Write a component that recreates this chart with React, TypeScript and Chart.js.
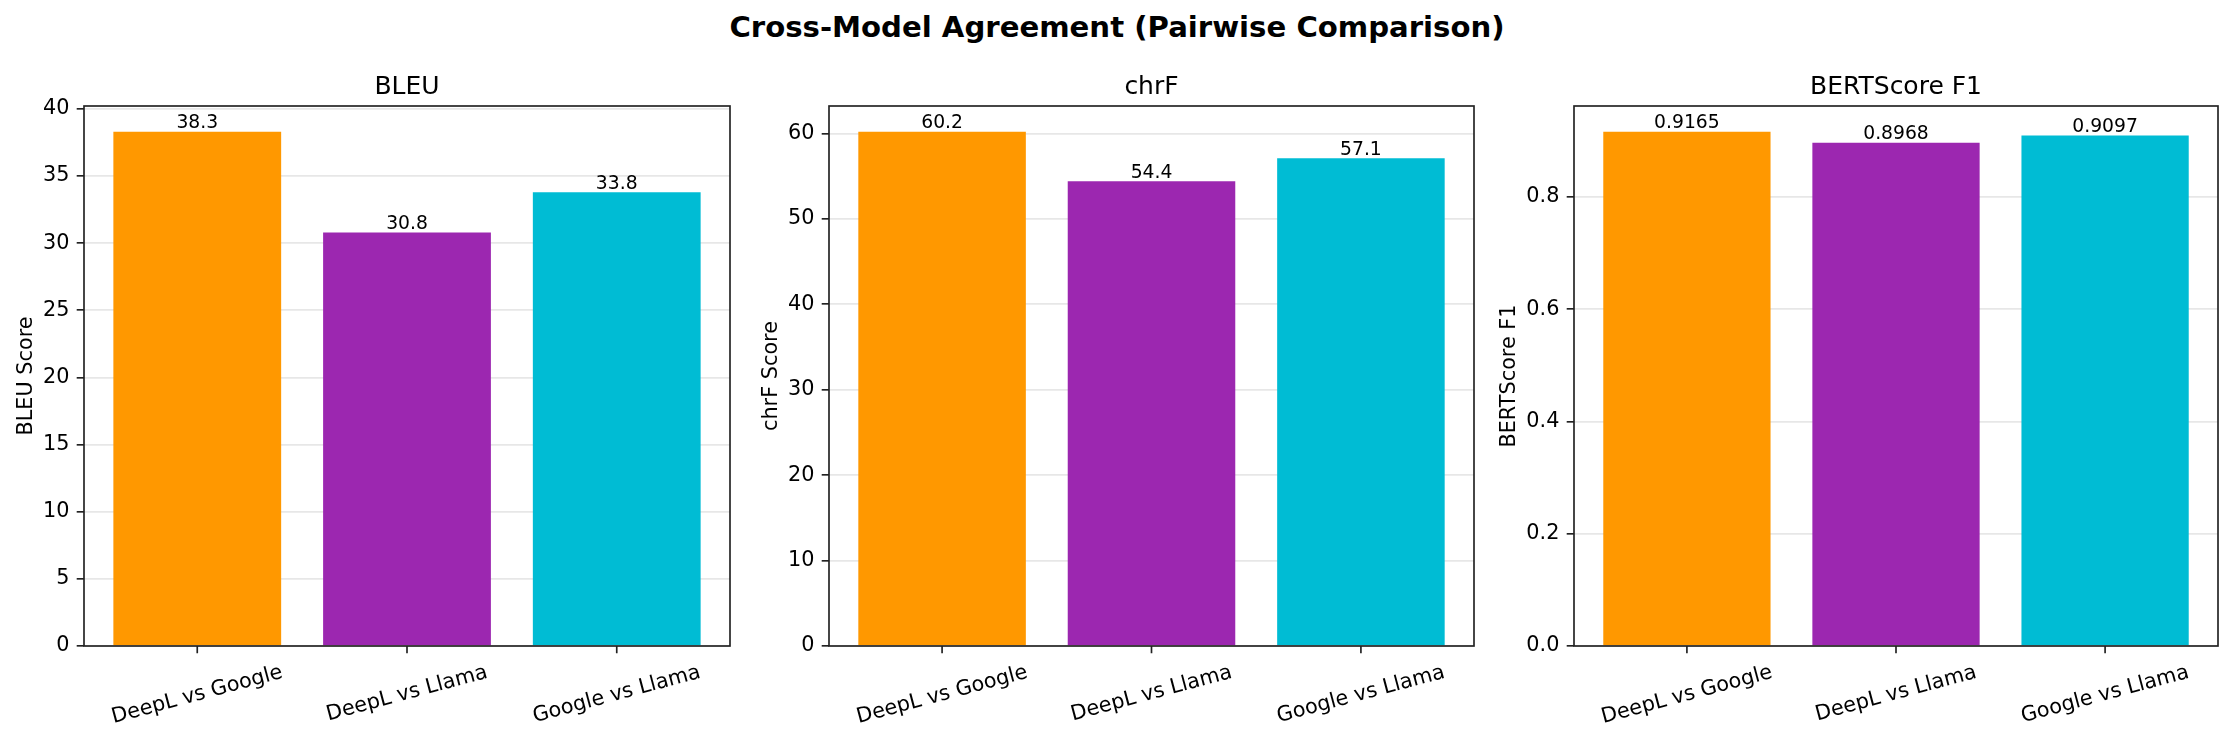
import React, { useEffect, useRef } from "react";
import { Chart, registerables } from "chart.js";

Chart.register(...registerables);

// ---------- data ----------
const categories = ["DeepL vs Google", "DeepL vs Llama", "Google vs Llama"];
const barColors = ["#FF9800", "#9C27B0", "#00BCD4"];
const bleuValues = [38.3, 30.8, 33.8];
const chrfValues = [60.2, 54.4, 57.1];
const bertValues = [0.9165, 0.8968, 0.9097];
const bleuTicks = [0, 5, 10, 15, 20, 25, 30, 35, 40];
const chrfTicks = [0, 10, 20, 30, 40, 50, 60];
const bertTicks = [0, 0.2, 0.4, 0.6, 0.8];
const panelTitles = ["BLEU", "chrF", "BERTScore F1"];
const yAxisLabels = ["BLEU Score", "chrF Score", "BERTScore F1"];
const suptitle = "Cross-Model Agreement (Pairwise Comparison)";

// ---------- layout / style ----------
const FONT = "'DejaVu Sans', 'Liberation Sans', sans-serif";
const PAGE_W = 2234;
const PAGE_H = 741;
const PLOT_TOP = 106;
const PLOT_BOTTOM = 646;
const TICK_LEN = 7.3;
const LINE_W = 1.67;
const DARK = "#222222";

type PanelLayout = { canvasLeft: number; canvasWidth: number; plotLeft: number; plotRight: number };
const layouts: PanelLayout[] = [
  { canvasLeft: 0, canvasWidth: 755, plotLeft: 84, plotRight: 730 },
  { canvasLeft: 755, canvasWidth: 735, plotLeft: 829, plotRight: 1474 },
  { canvasLeft: 1490, canvasWidth: 744, plotLeft: 1574, plotRight: 2218 },
];

type PanelProps = {
  values: number[];
  ticks: number[];
  valueDecimals: number;
  tickDecimals: number;
  title: string;
  yLabel: string;
  layout: PanelLayout;
};

function Panel({ values, ticks, valueDecimals, tickDecimals, title, yLabel, layout }: PanelProps) {
  const ref = useRef<HTMLCanvasElement | null>(null);

  useEffect(() => {
    if (!ref.current) return;
    const n = categories.length;
    const xMin = -0.4 - 0.05 * (n - 1 + 0.8);
    const xMax = n - 1 + 0.4 + 0.05 * (n - 1 + 0.8);
    const yMax = Math.max(...values) * 1.05;
    const tickFont = `20.8px ${FONT}`;

    const decor = {
      id: "decor" + title.replace(/\s/g, ""),
      afterDraw(chart: any) {
        const ctx: CanvasRenderingContext2D = chart.ctx;
        const area = chart.chartArea;
        ctx.save();
        // frame
        ctx.strokeStyle = DARK;
        ctx.lineWidth = LINE_W;
        ctx.strokeRect(area.left, area.top, area.right - area.left, area.bottom - area.top);

        // x tick marks
        const xs = chart.scales.x;
        ctx.beginPath();
        categories.forEach((_, i) => {
          const px = xs.getPixelForValue(i);
          ctx.moveTo(px, area.bottom);
          ctx.lineTo(px, area.bottom + TICK_LEN);
        });
        ctx.stroke();

        // value labels
        const meta = chart.getDatasetMeta(0);
        ctx.fillStyle = "#000";
        ctx.font = `18.75px ${FONT}`;
        ctx.textAlign = "center";
        ctx.textBaseline = "alphabetic";
        meta.data.forEach((el: any, i: number) => {
          ctx.fillText(values[i].toFixed(valueDecimals), el.x, el.y - 3.5);
        });

        // subplot title
        ctx.font = `25px ${FONT}`;
        ctx.fillText(title, (area.left + area.right) / 2, area.top - 12.5);

        // x tick labels rotated 15deg, centered on tick
        ctx.font = tickFont;
        const ang = (15 * Math.PI) / 180;
        const lineH = 20.8 * 1.164;
        categories.forEach((c, i) => {
          const w = ctx.measureText(c).width;
          const bboxH = w * Math.sin(ang) + lineH * Math.cos(ang);
          const cx = xs.getPixelForValue(i);
          const cy = area.bottom + TICK_LEN + 7.3 + bboxH / 2;
          ctx.save();
          ctx.translate(cx, cy);
          ctx.rotate(-ang);
          ctx.textAlign = "center";
          ctx.textBaseline = "middle";
          ctx.fillText(c, 0, 0);
          ctx.restore();
        });

        // y axis label
        let maxTickW = 0;
        ticks.forEach((t) => {
          maxTickW = Math.max(maxTickW, ctx.measureText(t.toFixed(tickDecimals)).width);
        });
        const baseX = area.left - maxTickW - 25.5;
        ctx.save();
        ctx.translate(baseX, (area.top + area.bottom) / 2);
        ctx.rotate(-Math.PI / 2);
        ctx.textAlign = "center";
        ctx.textBaseline = "alphabetic";
        ctx.fillText(yLabel, 0, 0);
        ctx.restore();

        ctx.restore();
      },
    };

    const chart = new Chart(ref.current, {
      type: "bar",
      data: {
        datasets: [
          {
            data: values.map((v, i) => ({ x: i, y: v })),
            backgroundColor: barColors,
            borderWidth: 0,
            barPercentage: 0.8,
            categoryPercentage: 1.0,
          },
        ],
      },
      options: {
        responsive: false,
        animation: false,
        devicePixelRatio: 1,
        layout: {
          padding: {
            top: PLOT_TOP,
            left: 0,
            bottom: 0,
            right: layout.canvasLeft + layout.canvasWidth - layout.plotRight,
          },
        },
        plugins: {
          legend: { display: false },
          title: { display: false },
          tooltip: { enabled: false },
        },
        scales: {
          x: {
            type: "linear",
            min: xMin,
            max: xMax,
            offset: false,
            afterBuildTicks: (s: any) => {
              s.ticks = categories.map((_, i) => ({ value: i }));
            },
            afterFit: (s: any) => {
              s.height = PAGE_H - PLOT_BOTTOM;
            },
            border: { display: false },
            grid: { display: false, offset: false },
            ticks: { display: false },
          },
          y: {
            type: "linear",
            min: 0,
            max: yMax,
            z: 1,
            afterBuildTicks: (s: any) => {
              s.ticks = ticks.map((t) => ({ value: t }));
            },
            afterFit: (s: any) => {
              s.width = layout.plotLeft - layout.canvasLeft;
            },
            border: { display: false },
            grid: {
              display: true,
              offset: false,
              drawOnChartArea: true,
              drawTicks: true,
              tickLength: TICK_LEN,
              tickColor: DARK,
              tickWidth: LINE_W,
              color: "rgba(176,176,176,0.3)",
              lineWidth: LINE_W,
            },
            ticks: {
              padding: 7.3,
              color: "#000",
              font: { family: FONT, size: 20.8 },
              callback: (v: any) => Number(v).toFixed(tickDecimals),
            },
          },
        },
      } as any,
      plugins: [decor],
    });
    return () => chart.destroy();
  }, []);

  return (
    <canvas
      ref={ref}
      width={layout.canvasWidth}
      height={PAGE_H}
      style={{
        position: "absolute",
        left: layout.canvasLeft,
        top: 0,
        width: layout.canvasWidth,
        height: PAGE_H,
      }}
    />
  );
}

export default function App() {
  return (
    <div
      style={{
        position: "absolute",
        left: 0,
        top: 0,
        width: PAGE_W,
        height: PAGE_H,
        background: "#fff",
        overflow: "hidden",
      }}
    >
      <div
        style={{
          position: "absolute",
          left: 0,
          top: 9.5,
          width: PAGE_W,
          textAlign: "center",
          fontFamily: FONT,
          fontWeight: "bold",
          fontSize: "29.17px",
          lineHeight: "34px",
          color: "#000",
          whiteSpace: "nowrap",
        }}
      >
        {suptitle}
      </div>
      <Panel values={bleuValues} ticks={bleuTicks} valueDecimals={1} tickDecimals={0} title={panelTitles[0]} yLabel={yAxisLabels[0]} layout={layouts[0]} />
      <Panel values={chrfValues} ticks={chrfTicks} valueDecimals={1} tickDecimals={0} title={panelTitles[1]} yLabel={yAxisLabels[1]} layout={layouts[1]} />
      <Panel values={bertValues} ticks={bertTicks} valueDecimals={4} tickDecimals={1} title={panelTitles[2]} yLabel={yAxisLabels[2]} layout={layouts[2]} />
    </div>
  );
}
